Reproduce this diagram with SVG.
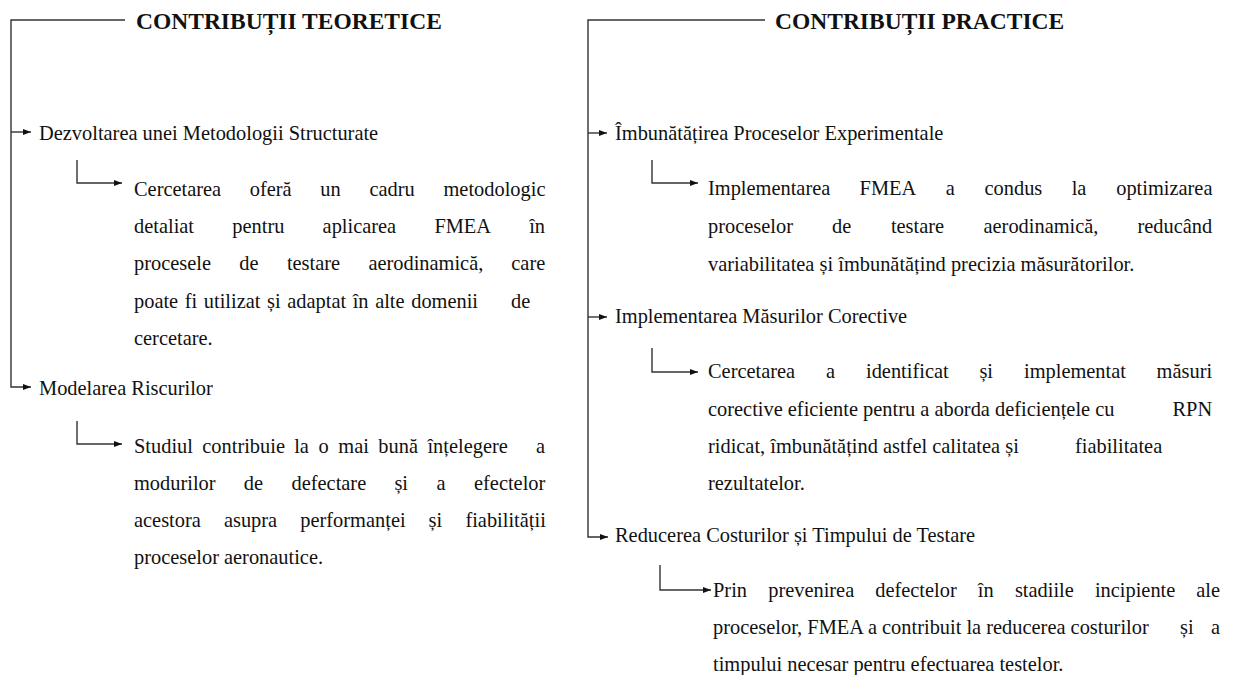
<svg xmlns="http://www.w3.org/2000/svg" width="1233" height="675" viewBox="0 0 1233 675">
<style>
  .t { font-family: "Liberation Serif", "Times New Roman", serif; font-size: 20.4px; fill: #111; }
  .h { font-family: "Liberation Serif", "Times New Roman", serif; font-size: 23.5px; font-weight: bold; fill: #111; }
  .ln { fill: none; stroke: #333; stroke-width: 1.4; }
</style>
<defs>
  <marker id="ah" markerUnits="userSpaceOnUse" markerWidth="8" markerHeight="6" refX="8" refY="3" orient="auto">
    <path d="M0,0 L8,3 L0,6 z" fill="#111"/>
  </marker>
</defs>
<rect width="1233" height="675" fill="#fff"/>

<g id="connectors">
  <path class="ln" d="M125,20 H11 V387 H31" marker-end="url(#ah)"/>
  <path class="ln" d="M11,132 H31" marker-end="url(#ah)"/>
  <path class="ln" d="M77,160 V183 H122" marker-end="url(#ah)"/>
  <path class="ln" d="M77,421 V444 H122" marker-end="url(#ah)"/>
  <path class="ln" d="M765,20 H588 V537 H608" marker-end="url(#ah)"/>
  <path class="ln" d="M588,133 H607" marker-end="url(#ah)"/>
  <path class="ln" d="M588,317 H607" marker-end="url(#ah)"/>
  <path class="ln" d="M652,160 V183 H698" marker-end="url(#ah)"/>
  <path class="ln" d="M652,348 V372 H698" marker-end="url(#ah)"/>
  <path class="ln" d="M660,565 V590 H711" marker-end="url(#ah)"/>
</g>

<g id="title-teoretice">
  <text class="h" x="136" y="29">CONTRIBUȚII TEORETICE</text>
</g>

<g id="dezvoltarea">
  <text class="t" x="39" y="140">Dezvoltarea unei Metodologii Structurate</text>
</g>

<g id="cercetarea-cadru">
  <text class="t" y="196"><tspan x="134">Cercetarea</tspan><tspan x="249.7">oferă</tspan><tspan x="320.3">un</tspan><tspan x="369.5">cadru</tspan><tspan x="443.5">metodologic</tspan></text>
  <text class="t" y="233"><tspan x="134">detaliat</tspan><tspan x="232.3">pentru</tspan><tspan x="322.6">aplicarea</tspan><tspan x="434.4">FMEA</tspan><tspan x="529.2">în</tspan></text>
  <text class="t" y="270"><tspan x="134">procesele</tspan><tspan x="239.2">de</tspan><tspan x="286.9">testare</tspan><tspan x="368.4">aerodinamică,</tspan><tspan x="511.3">care</tspan></text>
  <text class="t" y="308"><tspan x="134" word-spacing="1.5">poate fi utilizat și adaptat în alte domenii</tspan><tspan x="511">de</tspan></text>
  <text class="t" x="134" y="345">cercetare.</text>
</g>

<g id="modelarea">
  <text class="t" x="39" y="395">Modelarea Riscurilor</text>
</g>

<g id="studiul">
  <text class="t" y="453"><tspan x="134">Studiul</tspan><tspan x="202.3">contribuie</tspan><tspan x="294.2">la</tspan><tspan x="318.5">o</tspan><tspan x="338.3">mai</tspan><tspan x="378.3">bună</tspan><tspan x="427.4">înțelegere</tspan><tspan x="536">a</tspan></text>
  <text class="t" y="490"><tspan x="134">modurilor</tspan><tspan x="243.7">de</tspan><tspan x="291.5">defectare</tspan><tspan x="394.4">și</tspan><tspan x="436.5">a</tspan><tspan x="474">efectelor</tspan></text>
  <text class="t" y="527"><tspan x="134">acestora</tspan><tspan x="223.9">asupra</tspan><tspan x="300.3">performanței</tspan><tspan x="428.5">și</tspan><tspan x="465.4">fiabilității</tspan></text>
  <text class="t" x="134" y="564">proceselor aeronautice.</text>
</g>

<g id="title-practice">
  <text class="h" x="775" y="29">CONTRIBUȚII PRACTICE</text>
</g>

<g id="imbunatatirea">
  <text class="t" x="615" y="140">Îmbunătățirea Proceselor Experimentale</text>
</g>

<g id="implementarea-fmea">
  <text class="t" y="195"><tspan x="708">Implementarea</tspan><tspan x="859.6">FMEA</tspan><tspan x="945.7">a</tspan><tspan x="984.5">condus</tspan><tspan x="1071.7">la</tspan><tspan x="1116.2">optimizarea</tspan></text>
  <text class="t" y="233"><tspan x="708">proceselor</tspan><tspan x="832.1">de</tspan><tspan x="890.9">testare</tspan><tspan x="983.5">aerodinamică,</tspan><tspan x="1137.5">reducând</tspan></text>
  <text class="t" x="708" y="271">variabilitatea și îmbunătățind precizia măsurătorilor.</text>
</g>

<g id="implementarea-masurilor">
  <text class="t" x="615" y="323">Implementarea Măsurilor Corective</text>
</g>

<g id="cercetarea-masuri">
  <text class="t" y="378"><tspan x="708">Cercetarea</tspan><tspan x="825.9">a</tspan><tspan x="866">identificat</tspan><tspan x="979.4">și</tspan><tspan x="1024">implementat</tspan><tspan x="1156.6">măsuri</tspan></text>
  <text class="t" y="416"><tspan x="708">corective eficiente pentru a aborda deficiențele cu</tspan><tspan x="1172.5">RPN</tspan></text>
  <text class="t" y="453"><tspan x="708">ridicat, îmbunătățind astfel calitatea și</tspan><tspan x="1075">fiabilitatea</tspan></text>
  <text class="t" x="708" y="490">rezultatelor.</text>
</g>

<g id="reducerea">
  <text class="t" x="615" y="542">Reducerea Costurilor și Timpului de Testare</text>
</g>

<g id="prin-prevenirea">
  <text class="t" y="597"><tspan x="713">Prin</tspan><tspan x="768.2">prevenirea</tspan><tspan x="875.2">defectelor</tspan><tspan x="977.8">în</tspan><tspan x="1014.9">stadiile</tspan><tspan x="1094.9">incipiente</tspan><tspan x="1196.3">ale</tspan></text>
  <text class="t" y="634"><tspan x="713">proceselor, FMEA a contribuit la reducerea costurilor</tspan><tspan x="1180">și</tspan><tspan x="1211">a</tspan></text>
  <text class="t" x="713" y="671">timpului necesar pentru efectuarea testelor.</text>
</g>
</svg>
